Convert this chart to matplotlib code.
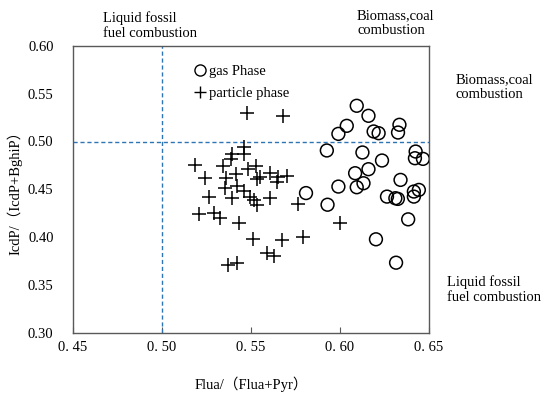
import matplotlib

matplotlib.use("Agg")
import matplotlib.pyplot as plt
from matplotlib.lines import Line2D

# ── Data ──────────────────────────────────────────────────
gas_x = [0.6094, 0.6160, 0.6038, 0.5991, 0.6189, 0.6217, 0.6334, 0.6326,
         0.5926, 0.6126, 0.6236, 0.6425, 0.6421, 0.6466, 0.6085, 0.6160,
         0.6340, 0.6094, 0.6132, 0.5991, 0.5809, 0.5930, 0.6264, 0.6311,
         0.6325, 0.6415, 0.6443, 0.6415, 0.6383, 0.6202, 0.6315]
gas_y = [0.5374, 0.5269, 0.5164, 0.5080, 0.5105, 0.5087, 0.5175, 0.5094,
         0.4906, 0.4885, 0.4801, 0.4895, 0.4825, 0.4818, 0.4668, 0.4710,
         0.4598, 0.4521, 0.4563, 0.4528, 0.4460, 0.4338, 0.4423, 0.4406,
         0.4399, 0.4476, 0.4493, 0.4423, 0.4185, 0.3976, 0.3731]

part_x = [0.5476, 0.5680, 0.5463, 0.5463, 0.5393, 0.5387, 0.5183, 0.5343,
          0.5485, 0.5528, 0.5415, 0.5239, 0.5359, 0.5531, 0.5550, 0.5606,
          0.5652, 0.5702, 0.5648, 0.5356, 0.5420, 0.5461, 0.5494, 0.5263,
          0.5396, 0.5517, 0.5531, 0.5606, 0.5763, 0.5207, 0.5294, 0.5324,
          0.5433, 0.5513, 0.5676, 0.5794, 0.5591, 0.5628, 0.5370, 0.5424,
          0.5998]
part_y = [0.5300, 0.5272, 0.4941, 0.4864, 0.4864, 0.4819, 0.4756, 0.4739,
          0.4714, 0.4739, 0.4655, 0.4620, 0.4620, 0.4610, 0.4627, 0.4669,
          0.4627, 0.4638, 0.4575, 0.4516, 0.4530, 0.4481, 0.4418, 0.4418,
          0.4411, 0.4383, 0.4331, 0.4411, 0.4341, 0.4237, 0.4254, 0.4199,
          0.4146, 0.3983, 0.3972, 0.4000, 0.3836, 0.3801, 0.3704, 0.3728,
          0.4146]

x_ticks = [0.45, 0.50, 0.55, 0.60, 0.65]
x_ticklabels = ["0. 45", "0. 50", "0. 55", "0. 60", "0. 65"]
y_ticks = [0.30, 0.35, 0.40, 0.45, 0.50, 0.55, 0.60]
y_ticklabels = ["0.30", "0.35", "0.40", "0.45", "0.50", "0.55", "0.60"]

FONT = ["Liberation Serif", "Noto Sans CJK SC", "DejaVu Sans"]
plt.rcParams["font.family"] = FONT
plt.rcParams["font.size"] = 10.5

W, H = 550, 394
fig = plt.figure(figsize=(W / 100, H / 100), dpi=100)
ax = fig.add_axes([73 / W, 1 - 332.5 / H, 356 / W, 286.5 / H])

ax.scatter(gas_x, gas_y, s=85, facecolors="none", edgecolors="black",
           linewidths=1.1, zorder=3)
ax.scatter(part_x, part_y, s=95, marker="+", color="black",
           linewidths=1.1, zorder=3)

ax.axvline(0.5, color="#2E75B6", linestyle="--", linewidth=1.0, dashes=(3, 2))
ax.axhline(0.5, color="#2E75B6", linestyle="--", linewidth=1.0, dashes=(3, 2))

ax.set_xlim(0.45, 0.65)
ax.set_ylim(0.30, 0.60)
ax.set_xticks(x_ticks)
ax.set_xticklabels(x_ticklabels)
ax.set_yticks(y_ticks)
ax.set_yticklabels(y_ticklabels)
ax.tick_params(axis="x", direction="in", length=4, color="#595959", pad=6)
ax.tick_params(axis="y", length=0, pad=14)
for sp in ax.spines.values():
    sp.set_color("#595959")
    sp.set_linewidth(1.0)

ax.set_xlabel("Flua/（Flua+Pyr）", labelpad=16)
ax.set_ylabel("IcdP/（IcdP+BghiP）", labelpad=4)

handles = [
    Line2D([], [], marker="o", linestyle="none", markerfacecolor="none",
           markeredgecolor="black", markersize=8, markeredgewidth=1.0),
    Line2D([], [], marker="+", linestyle="none", color="black",
           markersize=9, markeredgewidth=1.0),
]
ax.legend(handles, ["gas Phase", "particle phase"], loc="upper left",
          bbox_to_anchor=(0.30, 0.98), frameon=False, handletextpad=0.1,
          handlelength=1.0, labelspacing=0.6, fontsize=10.5)

fig.text(103 / W, 1 - 11 / H, "Liquid fossil\nfuel combustion",
         ha="left", va="top", fontsize=10.5, linespacing=1.2)
fig.text(357 / W, 1 - 9 / H, "Biomass,coal\ncombustion",
         ha="left", va="top", fontsize=10.5, linespacing=1.2)
fig.text(456 / W, 1 - 73 / H, "Biomass,coal\ncombustion",
         ha="left", va="top", fontsize=10.5, linespacing=1.2)
fig.text(447 / W, 1 - 275 / H, "Liquid fossil\nfuel combustion",
         ha="left", va="top", fontsize=10.5, linespacing=1.2)

fig.savefig("out.png", dpi=100)
